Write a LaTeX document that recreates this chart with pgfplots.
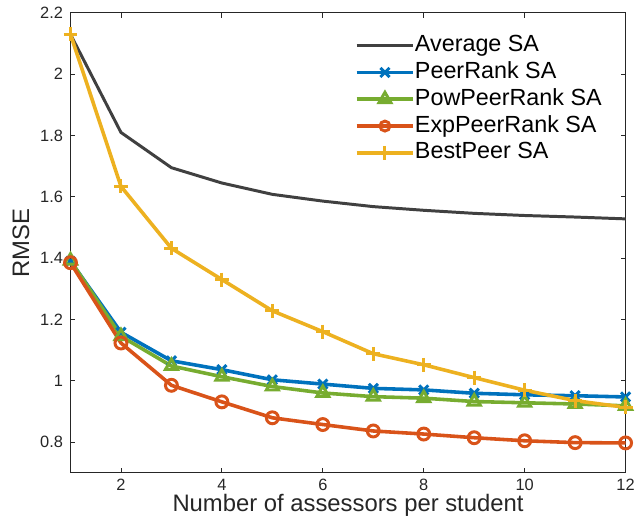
\documentclass[border=0pt]{standalone}
\usepackage{fontspec}
\setmainfont{Liberation Sans}
\usepackage{pgfplots}
\pgfplotsset{compat=1.18}

\definecolor{mblue}{rgb}{0,0.447,0.741}
\definecolor{morange}{rgb}{0.85,0.325,0.098}
\definecolor{myellow}{rgb}{0.929,0.694,0.125}
\definecolor{mgreen}{rgb}{0.466,0.674,0.188}
\definecolor{mgray}{rgb}{0.25,0.25,0.25}
\definecolor{axgray}{rgb}{0.15,0.15,0.15}

\pgfplotsset{
  mleg/.style 2 args={legend image code/.code={
      \draw[line width=3.6pt] (0cm,0cm) -- (2cm,0cm);
      \draw[line width=3pt] plot[mark=#1, mark size=#2] coordinates {(1cm,0cm)};}},
  mk/.style={only marks, forget plot, mark options={line width=3pt}},
}

\begin{document}
\begin{tikzpicture}
\begin{axis}[
    scale only axis,
    width=559pt, height=463pt,
    xmin=1, xmax=12, ymin=0.7, ymax=2.2,
    xtick={2,4,6,8,10,12},
    ytick={0.8,1,1.2,1.4,1.6,1.8,2,2.2},
    tick align=inside,
    major tick length=5pt,
    axis line style={axgray, line width=0.9pt},
    every tick/.style={axgray, line width=0.9pt},
    tick label style={font=\fontsize{16.5}{18}\selectfont, text=axgray},
    xticklabel style={yshift=-3pt},
    yticklabel style={xshift=-4pt},
    /pgf/number format/assume math mode=true,
    xlabel={Number of assessors per student},
    ylabel={RMSE},
    label style={font=\fontsize{24}{26}\selectfont, text=axgray},
    xlabel style={yshift=3pt},
    ylabel style={yshift=4pt},
    legend style={at={(0.512,0.953)}, anchor=north west, draw=none, fill=none,
        font=\fontsize{23.5}{26}\selectfont, row sep=5pt,
        inner sep=0pt, nodes={inner sep=0pt, text height=17pt, text depth=5pt}},
    legend cell align=left,
    legend image code/.code={\draw[line width=3pt] (0cm,0cm) -- (2cm,0cm);},
]
\addplot[mgray, line width=3pt] coordinates {
(1,2.13) (2,1.81) (3,1.695) (4,1.645) (5,1.608) (6,1.586) (7,1.568) (8,1.556) (9,1.546) (10,1.539) (11,1.534) (12,1.528)};
\addlegendentry{Average SA}

\addplot[mblue, line width=3.6pt, mleg={x}{6.5pt}] coordinates {
(1,1.39) (2,1.158) (3,1.065) (4,1.036) (5,1.003) (6,0.989) (7,0.975) (8,0.97) (9,0.959) (10,0.954) (11,0.951) (12,0.947)};
\addlegendentry{PeerRank SA}
\addplot[mblue, mk, mark=x, mark size=6.5pt] coordinates {
(1,1.39) (2,1.158) (3,1.065) (4,1.036) (5,1.003) (6,0.989) (7,0.975) (8,0.97) (9,0.959) (10,0.954) (11,0.951) (12,0.947)};

\addplot[mgreen, line width=3.6pt, mleg={triangle}{7pt}] coordinates {
(1,1.392) (2,1.145) (3,1.048) (4,1.013) (5,0.981) (6,0.96) (7,0.948) (8,0.943) (9,0.932) (10,0.928) (11,0.924) (12,0.918)};
\addlegendentry{PowPeerRank SA}
\addplot[mgreen, mk, mark=triangle, mark size=7pt] coordinates {
(1,1.392) (2,1.145) (3,1.048) (4,1.013) (5,0.981) (6,0.96) (7,0.948) (8,0.943) (9,0.932) (10,0.928) (11,0.924) (12,0.918)};

\addplot[morange, line width=3.6pt, mleg={o}{5pt}] coordinates {
(1,1.385) (2,1.123) (3,0.985) (4,0.931) (5,0.879) (6,0.857) (7,0.836) (8,0.826) (9,0.814) (10,0.804) (11,0.798) (12,0.797)};
\addlegendentry{ExpPeerRank SA}
\addplot[morange, mk, mark=o, mark size=6pt] coordinates {
(1,1.385) (2,1.123) (3,0.985) (4,0.931) (5,0.879) (6,0.857) (7,0.836) (8,0.826) (9,0.814) (10,0.804) (11,0.798) (12,0.797)};

\addplot[myellow, line width=3.6pt, mleg={+}{7pt}] coordinates {
(1,2.13) (2,1.634) (3,1.432) (4,1.33) (5,1.228) (6,1.16) (7,1.088) (8,1.052) (9,1.01) (10,0.969) (11,0.935) (12,0.913)};
\addlegendentry{BestPeer SA}
\addplot[myellow, mk, mark=+, mark size=7pt] coordinates {
(1,2.13) (2,1.634) (3,1.432) (4,1.33) (5,1.228) (6,1.16) (7,1.088) (8,1.052) (9,1.01) (10,0.969) (11,0.935) (12,0.913)};
\end{axis}
% outer margins as in the reference
\path (current axis.south west) ++(-71pt,0pt);
\path (current axis.north west) ++(0pt,13pt);
\end{tikzpicture}
\end{document}
